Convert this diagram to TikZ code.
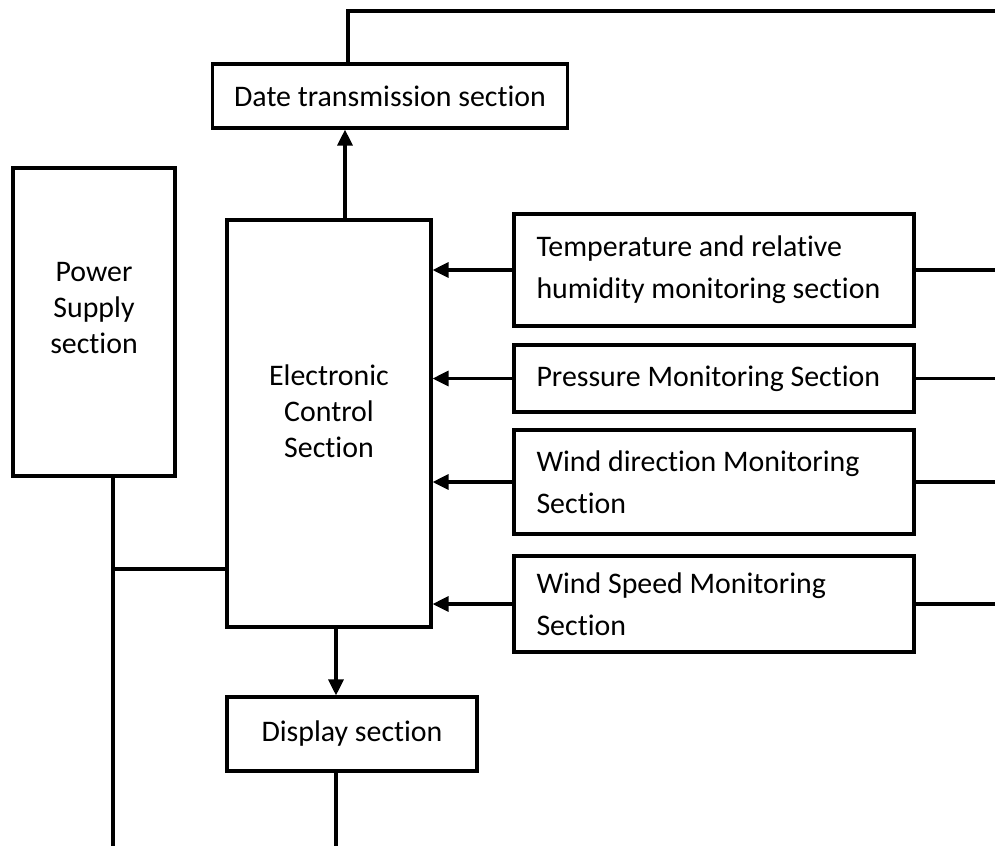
\documentclass[tikz,border=0pt]{standalone}
\usepackage{fontspec}
\setmainfont{Carlito}[Ligatures=NoCommon]
\usetikzlibrary{arrows.meta}

\begin{document}
\begin{tikzpicture}[x=0.02cm, y=-0.02cm,
                    secbox/.style={draw=black, line width=1.8pt, inner sep=0pt, align=center,
                                   font=\fontsize{17}{20}\selectfont},
                    lbl/.style={align=center, font=\fontsize{17}{20.5}\selectfont},
                    monbox/.style={secbox, align=flush left, minimum width=8cm, text width=7.1cm,
                                   inner xsep=0.45cm, font=\fontsize{17}{24}\selectfont},
                    wire/.style={line width=1.8pt},
                    arr/.style={wire, -{Triangle[length=0.32cm, width=0.3cm]}}
                ]
    \useasboundingbox (0,0) rectangle (995,846);
    \coordinate (rim) at (995,0);
    \coordinate (floor) at (0,846);
    \coordinate (topR) at (995,11);
    \coordinate (junc) at (113,569);

    % left column
    \node[secbox, minimum width=3.24cm, minimum height=6.16cm] (pwr) at (94,322) {};
    \node[lbl] (pwrtxt) at ([yshift=0.28cm]pwr.center) {Power\\Supply\\section};
    \node[secbox, minimum width=4.08cm, minimum height=8.14cm] (ecs) at (329,423.5) {};
    \node[lbl] (ecstxt) at ([yshift=0.24cm]ecs.center) {Electronic\\Control\\Section};
    \node[secbox, minimum width=7.1cm, minimum height=1.28cm] (dts) at (390,96) {Date transmission section};
    \node[secbox, minimum width=5cm, minimum height=1.48cm] (dsp) at (352,734) {Display section};

    % monitoring sections
    \node[monbox, minimum height=2.24cm] (thm) at (714,270) {Temperature and relative\\humidity monitoring section};
    \node[monbox, minimum height=1.34cm] (prs) at (714,378.5) {Pressure Monitoring Section};
    \node[monbox, minimum height=2.08cm] (wdm) at (714,482) {Wind direction Monitoring\\Section};
    \node[monbox, minimum height=1.92cm] (wsm) at (714,604) {Wind Speed Monitoring\\Section};

    \foreach \m in {thm,prs,wdm,wsm}{
        \draw[arr] (\m.west) -- (\m.west -| ecs.east);
        \draw[wire] (\m.east) -- (\m.east -| rim);
    }

    \draw[arr] ([xshift=0.32cm]ecs.north) -- ([xshift=0.32cm]ecs.north |- dts.south);
    \draw[wire] ([xshift=-0.84cm]dts.north) |- (topR);
    \draw[arr] ([xshift=0.14cm]ecs.south) -- ([xshift=0.14cm]ecs.south |- dsp.north);
    \draw[wire] ([xshift=-0.32cm]dsp.south) -- ([xshift=-0.32cm]dsp.south |- floor);
    \draw[wire] ([xshift=0.38cm]pwr.south) -- ([xshift=0.38cm]pwr.south |- floor);
    \draw[wire] (junc) -- (junc -| ecs.west);
\end{tikzpicture}
\end{document}
